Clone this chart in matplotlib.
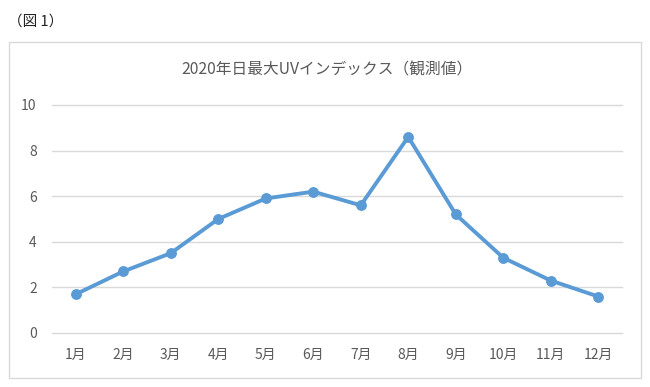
import matplotlib
matplotlib.use('Agg')
import matplotlib.pyplot as plt
from matplotlib.patches import Rectangle

plt.rcParams['font.family'] = ['Noto Sans CJK JP', 'DejaVu Sans']

# データ
months = ['1月', '2月', '3月', '4月', '5月', '6月', '7月', '8月', '9月', '10月', '11月', '12月']
uv_index = [1.7, 2.7, 3.5, 5.0, 5.9, 6.2, 5.6, 8.6, 5.2, 3.3, 2.3, 1.6]
y_ticks = [0, 2, 4, 6, 8, 10]

fig = plt.figure(figsize=(6.5, 3.87), dpi=100)

# グラフ全体の枠
fig.patches.append(Rectangle((9 / 650, 1 - 378 / 387), 632 / 650, 336 / 387,
                             transform=fig.transFigure, fill=False,
                             edgecolor='#d9d9d9', linewidth=1.0))
fig.text(8 / 650, 1 - 22 / 387, '（図 1）', fontsize=10.5, color='#222222', va='center', ha='left')
fig.text(327 / 650, 1 - 70 / 387, '2020年日最大UVインデックス（観測値）', fontsize=11.3,
         color='#595959', ha='center', va='center')

ax = fig.add_axes([52 / 650, 1 - 333 / 387, 570 / 650, 228 / 387])
x = list(range(len(months)))
ax.plot(x, uv_index, color='#5B9BD5', linewidth=2.8, marker='o', markersize=6.8,
        solid_capstyle='round', zorder=3)

ax.set_xlim(-0.5, len(months) - 0.5)
ax.set_ylim(0, 10)
ax.set_yticks(y_ticks)
ax.set_xticks(x)
ax.set_xticklabels(months)
ax.grid(axis='y', color='#d9d9d9', linewidth=1.0)
for gl in ax.get_ygridlines():
    gl.set_clip_on(False)
ax.set_axisbelow(True)
for s in ax.spines.values():
    s.set_visible(False)
ax.tick_params(length=0, labelsize=10, labelcolor='#595959')
ax.tick_params(axis='x', pad=11)
ax.tick_params(axis='y', pad=11)

fig.savefig('out.png', dpi=100)
